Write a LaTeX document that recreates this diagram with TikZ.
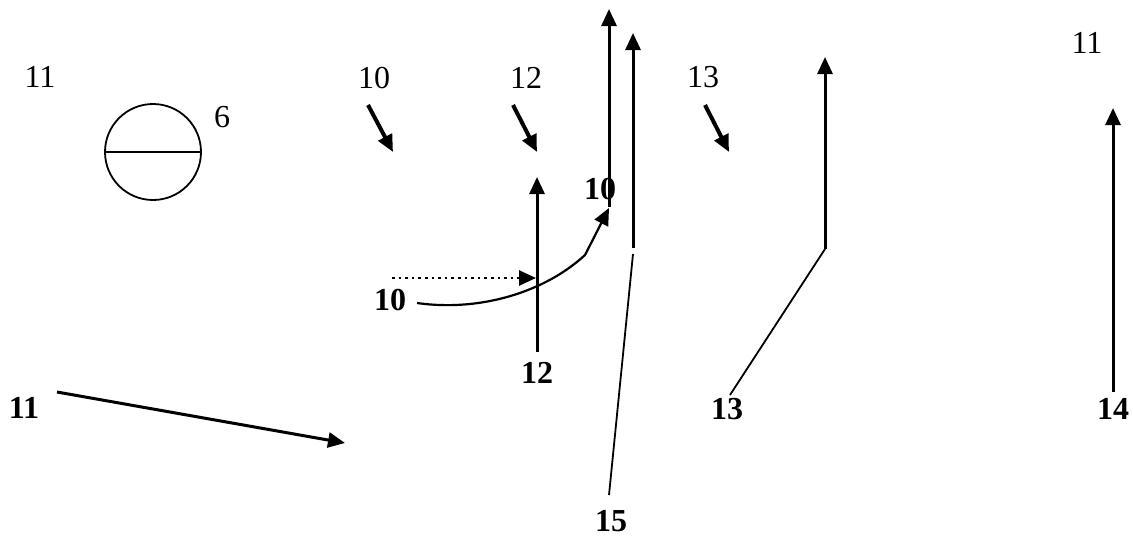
\documentclass[tikz,border=0pt]{standalone}
\usepackage{fontspec}
\setmainfont{Liberation Serif}
\usetikzlibrary{arrows.meta,positioning,calc}

\tikzset{
    lbl/.style={inner sep=0pt, font=\fontsize{16}{19}\selectfont},
    blbl/.style={lbl, font=\fontsize{16}{19}\selectfont\bfseries},
    arr/.style={-{Triangle[length=8.5pt,width=7.5pt]}, line width=1.5pt},
    ptr/.style={-{Triangle[length=8.5pt,width=7.5pt]}, line width=2pt},
    thin line/.style={line width=0.9pt}
}

\begin{document}
\begin{tikzpicture}[x=0.5pt, y=-0.5pt]
    \useasboundingbox (0,0) rectangle (1133,536);

    % Plain labels at the top
    \node[lbl] (t11a) at (40,77) {11};
    \node[lbl] (t6) at (222,117) {6};
    \node[lbl] (t10) at (374,78) {10};
    \node[lbl] (t12) at (526,78) {12};
    \node[lbl] (t13) at (703,77) {13};
    \node[lbl] (t11b) at (1087,43) {11};

    % Bold labels
    \node[blbl] (b10m) at (600,189) {10};
    \node[blbl] (b10l) at (390,300) {10};
    \node[blbl] (b12) at (537,373) {12};
    \node[blbl] (b11) at (24,408) {11};
    \node[blbl] (b13) at (727,409) {13};
    \node[blbl] (b14) at (1113,409) {14};
    \node[blbl] (b15) at (611,521) {15};

    % Circle with diameter
    \node[draw, circle, line width=0.9pt, minimum size=48pt, inner sep=0pt] (disc) at (153,152) {};
    \draw[line width=0.9pt] (disc.west) -- (disc.east);

    % Short pointers below the top labels
    \coordinate (p10s) at (368,105);  \coordinate (p10e) at (393,152);
    \coordinate (p12s) at (513,105);  \coordinate (p12e) at (537,152);
    \coordinate (p13s) at (705,105);  \coordinate (p13e) at (729,152);
    \draw[ptr] (p10s) -- (p10e);
    \draw[ptr] (p12s) -- (p12e);
    \draw[ptr] (p13s) -- (p13e);

    % Vertical arrow 12 and dotted arrow
    \coordinate (v12b) at (537,352);  \coordinate (v12t) at (537,177);
    \draw[arr] (v12b) -- (v12t);
    \coordinate (dots) at (392,278);  \coordinate (dote) at (536,278);
    \draw[arr, line width=1.3pt, dotted, -{Triangle[length=8.5pt,width=7.5pt]}] (dots) -- (dote);

    % Curved arrow into the tall line
    \coordinate (cs) at (417,303);  \coordinate (ck) at (585,255);
    \coordinate (ce) at (609,208);
    \draw[arr, line width=1.1pt] (cs) .. controls (480,312) and (545,292) .. (ck) -- (ce);

    % Tall arrows
    \coordinate (ta1b) at (609,207);  \coordinate (ta1t) at (609,9);
    \draw[arr] (ta1b) -- (ta1t);
    \coordinate (ta2b) at (633,248);  \coordinate (ta2t) at (633,33);
    \draw[arr] (ta2b) -- (ta2t);
    \coordinate (sl15t) at (633,254);  \coordinate (sl15b) at (609,495);
    \draw[thin line] (sl15t) -- (sl15b);

    % Bent arrow 13
    \coordinate (k13) at (825,249);  \coordinate (t13t) at (825,57);
    \coordinate (s13) at (730,395);
    \draw[thin line] (s13) -- (k13);
    \draw[arr] (k13) -- (t13t);

    % Arrow 14
    \coordinate (a14b) at (1113,392);  \coordinate (a14t) at (1113,108);
    \draw[arr] (a14b) -- (a14t);

    % Long slanted arrow 11
    \coordinate (a11s) at (57,392);  \coordinate (a11e) at (345,443);
    \draw[arr] (a11s) -- (a11e);
\end{tikzpicture}
\end{document}
